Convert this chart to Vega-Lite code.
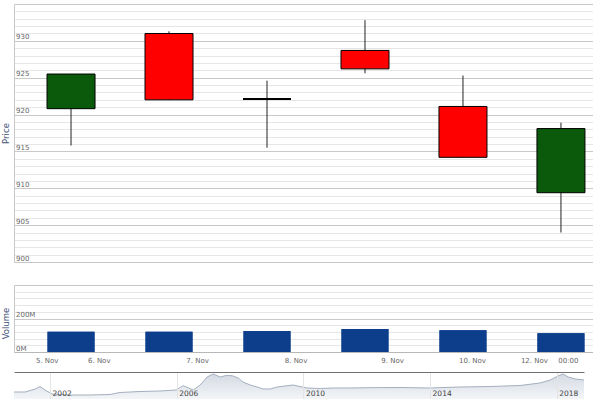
{
  "$schema": "https://vega.github.io/schema/vega-lite/v6.json",
  "padding": {"left": 1, "top": 4, "right": 0, "bottom": 0},
  "background": "white",
  "config": {
    "view": {"stroke": null},
    "font": "DejaVu Sans",
    "axis": {"labelFont": "DejaVu Sans", "titleFont": "DejaVu Sans", "labelFlush": false, "labelOverlap": false}
  },
  "datasets": {
    "ohlc": [
      {"date": "2018-11-05", "idx": 0, "open": 920.8, "high": 925.5, "low": 915.8, "close": 925.5, "volume": 121000000},
      {"date": "2018-11-06", "idx": 1, "open": 931.0, "high": 931.3, "low": 922.0, "close": 922.0, "volume": 121000000},
      {"date": "2018-11-07", "idx": 2, "open": 922.1, "high": 924.6, "low": 915.5, "close": 922.1, "volume": 125000000},
      {"date": "2018-11-08", "idx": 3, "open": 928.7, "high": 932.8, "low": 925.6, "close": 926.2, "volume": 137000000},
      {"date": "2018-11-09", "idx": 4, "open": 921.1, "high": 925.3, "low": 914.2, "close": 914.2, "volume": 130000000},
      {"date": "2018-11-12", "idx": 5, "open": 909.4, "high": 918.9, "low": 904.0, "close": 918.1, "volume": 112000000}
    ],
    "nav": [
      {"year": 2000.86, "value": 7},
      {"year": 2001.21, "value": 7},
      {"year": 2001.53, "value": 10},
      {"year": 2001.68, "value": 12.5},
      {"year": 2001.84, "value": 9},
      {"year": 2002.06, "value": 5},
      {"year": 2002.63, "value": 4},
      {"year": 2003.26, "value": 4},
      {"year": 2003.89, "value": 4.5},
      {"year": 2004.21, "value": 6.5},
      {"year": 2004.84, "value": 7.5},
      {"year": 2005.47, "value": 8},
      {"year": 2005.98, "value": 9},
      {"year": 2006.2, "value": 13.3},
      {"year": 2006.52, "value": 9},
      {"year": 2006.74, "value": 14},
      {"year": 2006.96, "value": 22},
      {"year": 2007.15, "value": 25},
      {"year": 2007.37, "value": 22},
      {"year": 2007.56, "value": 23.5},
      {"year": 2007.75, "value": 23.3},
      {"year": 2007.94, "value": 21},
      {"year": 2008.09, "value": 17},
      {"year": 2008.32, "value": 14},
      {"year": 2008.54, "value": 12},
      {"year": 2008.73, "value": 10},
      {"year": 2008.95, "value": 10},
      {"year": 2009.17, "value": 12},
      {"year": 2009.42, "value": 13},
      {"year": 2009.67, "value": 14},
      {"year": 2009.89, "value": 12.5},
      {"year": 2010.11, "value": 11},
      {"year": 2010.53, "value": 10.5},
      {"year": 2010.94, "value": 11},
      {"year": 2011.47, "value": 11},
      {"year": 2012.1, "value": 11.3},
      {"year": 2013.05, "value": 11.5},
      {"year": 2014.0, "value": 11},
      {"year": 2014.95, "value": 12},
      {"year": 2015.89, "value": 12.5},
      {"year": 2016.84, "value": 13.5},
      {"year": 2017.47, "value": 16},
      {"year": 2017.79, "value": 19},
      {"year": 2018.04, "value": 23},
      {"year": 2018.2, "value": 25},
      {"year": 2018.36, "value": 22},
      {"year": 2018.58, "value": 20},
      {"year": 2018.86, "value": 19}
    ]
  },
  "bounds": "flush",
  "spacing": 23,
  "vconcat": [
    {
      "width": 579,
      "height": 258,
      "data": {"name": "ohlc"},
      "encoding": {
        "x": {"field": "idx", "type": "quantitative", "scale": {"domain": [-0.582, 5.327], "nice": false, "zero": false, "padding": 0}, "axis": null}
      },
      "layer": [
        {
          "mark": {"type": "rule", "color": "#222222", "strokeWidth": 1},
          "encoding": {
            "y": {
              "field": "low", "type": "quantitative",
              "scale": {"domain": [900, 935], "nice": false, "zero": false},
              "axis": {
                "orient": "left",
                "values": [900, 901, 902, 903, 904, 905, 906, 907, 908, 909, 910, 911, 912, 913, 914, 915, 916, 917, 918, 919, 920, 921, 922, 923, 924, 925, 926, 927, 928, 929, 930, 931, 932, 933, 934, 935],
                "grid": true,
                "gridColor": {"condition": {"test": "datum.value % 5 === 0", "value": "#c8c8c8"}, "value": "#e6e6e6"},
                "labels": false, "ticks": false,
                "domain": true, "domainColor": "#c8c8c8",
                "title": "Price", "titleX": -9, "titleAngle": -90, "titleBaseline": "middle", "titleAlign": "center",
                "titleFontSize": 8.5, "titleColor": "#3f5478", "titleFontWeight": "normal"
              }
            },
            "y2": {"field": "high"}
          }
        },
        {
          "mark": {"type": "bar", "width": 48, "stroke": "#000000"},
          "encoding": {
            "y": {
              "field": "open", "type": "quantitative",
              "axis": {
                "orient": "left",
                "values": [900, 905, 910, 915, 920, 925, 930],
                "grid": false, "ticks": false, "domain": false,
                "labelAlign": "left", "labelBaseline": "alphabetic", "labelPadding": -1.5, "labelOffset": -2,
                "labelFontSize": 7, "labelColor": "#666666", "title": null
              }
            },
            "y2": {"field": "close"},
            "fill": {"condition": {"test": "datum.close > datum.open", "value": "#0b5a0b"}, "value": "#ff0000"},
            "strokeWidth": {"condition": {"test": "datum.close === datum.open", "value": 2}, "value": 1}
          }
        }
      ],
      "resolve": {"axis": {"y": "independent"}}
    },
    {
      "bounds": "flush",
      "spacing": 20,
      "vconcat": [
        {
          "width": 579,
          "height": 67,
          "data": {"name": "ohlc"},
          "encoding": {
            "x": {
              "field": "idx", "type": "quantitative",
              "scale": {"domain": [-0.582, 5.327], "nice": false, "zero": false, "padding": 0},
              "axis": {
                "values": [-0.248, 0.283, 1.286, 2.291, 3.276, 4.092, 4.724, 5.071],
                "labelExpr": "datum.value < -0.2 ? '5. Nov' : datum.value < 0.5 ? '6. Nov' : datum.value < 1.5 ? '7. Nov' : datum.value < 2.5 ? '8. Nov' : datum.value < 3.5 ? '9. Nov' : datum.value < 4.5 ? '10. Nov' : datum.value < 4.9 ? '12. Nov' : '00:00'",
                "grid": false, "ticks": false, "domain": true, "domainColor": "#b8b8b8",
                "labelPadding": 4, "labelFontSize": 7, "labelColor": "#666666", "title": null
              }
            }
          },
          "layer": [
            {
              "mark": {"type": "bar", "width": 47, "color": "#0c3e8c"},
              "encoding": {
                "y": {
                  "field": "volume", "type": "quantitative",
                  "scale": {"domain": [0, 400000000], "nice": false},
                  "axis": {
                    "orient": "left",
                    "values": [0, 40000000, 80000000, 120000000, 160000000, 200000000, 240000000, 280000000, 320000000, 360000000, 400000000],
                    "grid": true,
                    "gridColor": {"condition": {"test": "datum.value % 200000000 === 0", "value": "#c8c8c8"}, "value": "#e6e6e6"},
                    "labels": false, "ticks": false,
                    "domain": true, "domainColor": "#c8c8c8",
                    "title": "Volume", "titleX": -9, "titleY": 38, "titleAngle": -90, "titleBaseline": "middle", "titleAlign": "center",
                    "titleFontSize": 8.5, "titleColor": "#3f5478", "titleFontWeight": "normal"
                  }
                }
              }
            },
            {
              "mark": {"type": "bar", "width": 47, "color": "#0c3e8c"},
              "encoding": {
                "y": {
                  "field": "volume", "type": "quantitative",
                  "axis": {
                    "orient": "left",
                    "values": [0, 200000000],
                    "labelExpr": "(datum.value / 1000000) + 'M'",
                    "grid": false, "ticks": false, "domain": false,
                    "labelAlign": "left", "labelBaseline": "alphabetic", "labelPadding": -1.5, "labelOffset": -2,
                    "labelFontSize": 7, "labelColor": "#666666", "title": null
                  }
                }
              }
            }
          ],
          "resolve": {"axis": {"y": "independent"}}
        },
        {
          "width": 570,
          "height": 27,
          "data": {"name": "nav"},
          "mark": {
            "type": "area",
            "color": {"gradient": "linear", "x1": 0, "y1": 0, "x2": 0, "y2": 1, "stops": [{"offset": 0, "color": "#c2cbd7"}, {"offset": 1, "color": "#eef1f5"}]},
            "line": {"color": "#a4afbf", "strokeWidth": 1}
          },
          "encoding": {
            "x": {
              "field": "year", "type": "quantitative",
              "scale": {"domain": [2000.86, 2018.86], "nice": false, "zero": false},
              "axis": {
                "values": [2002, 2006, 2010, 2014, 2018], "format": "d",
                "grid": true, "gridColor": "#e4e4e4", "ticks": false, "domain": false, "zindex": 1,
                "labelAlign": "left", "labelOffset": 2, "labelPadding": -10,
                "labelFontSize": 7.5, "labelColor": "#444444", "title": null
              }
            },
            "y": {
              "field": "value", "type": "quantitative",
              "scale": {"domain": [0, 27], "nice": false},
              "axis": {"values": [27], "grid": true, "gridColor": "#707070", "labels": false, "ticks": false, "domain": false, "title": null, "zindex": 1}
            }
          }
        }
      ]
    }
  ]
}
